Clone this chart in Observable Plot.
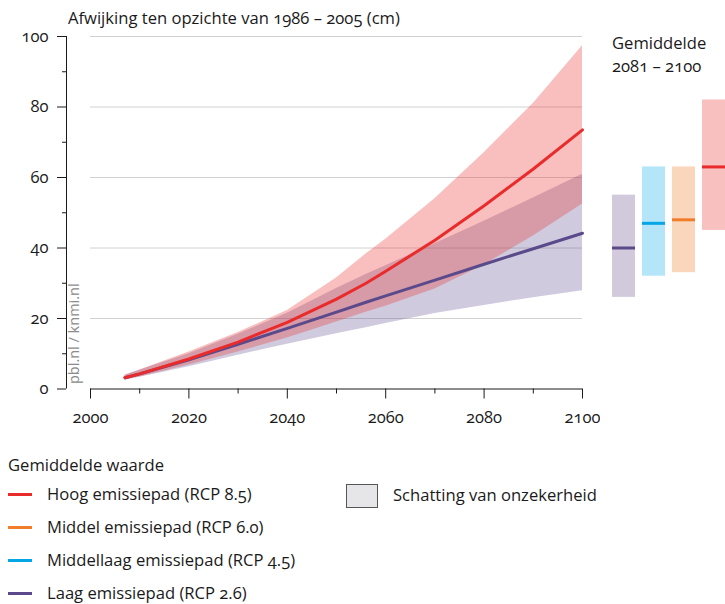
<!DOCTYPE html>
<html><head><meta charset="utf-8">
<script src="https://cdn.jsdelivr.net/npm/d3@7"></script>
<script src="https://cdn.jsdelivr.net/npm/@observablehq/plot@0.6"></script>
<style>
body{margin:0;background:#fff;font-family:"Open Sans",Lato,sans-serif;font-variant-numeric:oldstyle-nums;font-feature-settings:"onum" 1;color:#1a1a1a}
#wrap{position:relative;width:725px;height:604px;overflow:hidden}
svg text{font-variant-numeric:oldstyle-nums !important;font-feature-settings:"onum" 1 !important}
.abs{position:absolute;white-space:nowrap;font-size:16.6px;line-height:20px}
.sw{position:absolute;width:24px;height:3px}
</style></head><body><div id="wrap"></div>
<script>
// ---- data ----
const years   = [2007, 2010, 2020, 2030, 2040, 2050, 2056, 2060, 2070, 2080, 2090, 2100];
const rcp85Mean = [3.2, 4.3, 8.5, 13.3, 18.9, 25.5, 30.0, 33.4, 42.2, 52.0, 62.4, 73.5];
const rcp85Low  = [2.6, 3.4, 6.8, 10.5, 14.5, 19.0, 21.8, 23.5, 28.4, 35.2, 43.4, 52.5];
const rcp85High = [3.9, 5.4, 10.5, 16.0, 22.3, 31.5, 38.3, 42.5, 54.0, 67.0, 81.0, 97.4];
const rcp26Mean = [3.2, 4.3, 8.3, 12.7, 17.2, 21.8, 24.6, 26.4, 30.9, 35.4, 39.8, 44.2];
const rcp26Low  = [2.5, 3.3, 6.3, 9.6, 12.7, 15.7, 17.4, 18.6, 21.4, 23.7, 25.9, 27.9];
const rcp26High = [3.9, 5.3, 10.0, 15.5, 21.5, 28.5, 32.5, 35.0, 41.2, 47.6, 54.2, 60.9];

const scenarios = ["RCP 2.6", "RCP 4.5", "RCP 6.0", "RCP 8.5"];
const avgMean = [40, 47, 48, 63];
const avgLow  = [26, 32, 33, 45];
const avgHigh = [55, 63, 63, 82];

const xMajor = [2000, 2020, 2040, 2060, 2080, 2100];
const xMinor = [2010, 2030, 2050, 2070, 2090];
const yMajor = [0, 20, 40, 60, 80, 100];
const yMinor = [10, 30, 50, 70, 90];

const legendLabels = ["Hoog emissiepad (RCP 8.5)", "Middel emissiepad (RCP 6.0)", "Middellaag emissiepad (RCP 4.5)", "Laag emissiepad (RCP 2.6)"];
const legendKeys = ["RCP 8.5", "RCP 6.0", "RCP 4.5", "RCP 2.6"];

// ---- styles ----
const lineColor = {"RCP 2.6": "#5b4a8b", "RCP 4.5": "#05a6e6", "RCP 6.0": "#f07d2a", "RCP 8.5": "#ea2b2b"};
const boxColor  = {"RCP 2.6": "#d2c9dc", "RCP 4.5": "#b4e5f9", "RCP 6.0": "#fad6bc", "RCP 8.5": "#f9c0c0"};
const font = {fontFamily: "'Open Sans', Lato, sans-serif", fontSize: "16.5px", fontVariantNumeric: "oldstyle-nums", color: "#1a1a1a", background: "transparent"};

const rows = years.map((y, i) => ({year: y, m85: rcp85Mean[i], lo85: rcp85Low[i], hi85: rcp85High[i], m26: rcp26Mean[i], lo26: rcp26Low[i], hi26: rcp26High[i]}));
const avgRows = scenarios.map((s, i) => ({name: s, mean: avgMean[i], lo: avgLow[i], hi: avgHigh[i], fill: boxColor[s], stroke: lineColor[s]}));

const wrap = document.getElementById("wrap");

const main = Plot.plot({
  width: 600, height: 440, marginTop: 36, marginBottom: 51.5, marginLeft: 90, marginRight: 18,
  x: {domain: [2000, 2100], label: null},
  y: {domain: [0, 100], label: null},
  style: font,
  marks: [
    Plot.gridY(yMajor.filter(d => d > 0), {stroke: "#d2d2d2", strokeOpacity: 1}),
    Plot.areaY(rows, {x: "year", y1: "lo26", y2: "hi26", fill: lineColor["RCP 2.6"], fillOpacity: 0.29}),
    Plot.areaY(rows, {x: "year", y1: "lo85", y2: "hi85", fill: lineColor["RCP 8.5"], fillOpacity: 0.3}),
    Plot.lineY(rows, {x: "year", y: "m26", stroke: lineColor["RCP 2.6"], strokeWidth: 3}),
    Plot.lineY(rows, {x: "year", y: "m85", stroke: lineColor["RCP 8.5"], strokeWidth: 3}),
    Plot.ruleY([0], {stroke: "#1a1a1a"}),
    Plot.ruleX([2000], {y1: 0, y2: 100, dx: -24, stroke: "#1a1a1a"}),
    Plot.axisX({ticks: xMajor, tickSize: 10, tickPadding: 12, label: null, tickFormat: d => String(d), stroke: "#1a1a1a", fill: "#1a1a1a"}),
    Plot.axisX({ticks: xMinor, tickSize: 5, label: null, tickFormat: () => "", stroke: "#1a1a1a"}),
    Plot.axisY({ticks: yMajor, tickSize: 9, tickPadding: 9, dx: -24, label: null, tickFormat: d => String(d), stroke: "#1a1a1a", fill: "#1a1a1a"}),
    Plot.axisY({ticks: yMinor, tickSize: 4, dx: -24, label: null, tickFormat: () => "", stroke: "#1a1a1a"}),
    Plot.text(["pbl.nl / knmi.nl"], {frameAnchor: "bottom-left", rotate: -90, textAnchor: "start", dx: -12, dy: -5, fill: "#8c8c8c", fontSize: 14.5})
  ]
});
main.style.position = "absolute"; main.style.left = "0px"; main.style.top = "0px";
wrap.appendChild(main);

const box = Plot.plot({
  width: 135, height: 440, marginTop: 36, marginBottom: 51.5, marginLeft: 22, marginRight: 0,
  x: {domain: scenarios, axis: null, paddingInner: 0.24, paddingOuter: 0},
  y: {domain: [0, 100], axis: null},
  color: {type: "identity"},
  style: font,
  marks: [
    Plot.barY(avgRows, {x: "name", y1: "lo", y2: "hi", fill: "fill"}),
    Plot.tickY(avgRows, {x: "name", y: "mean", stroke: "stroke", strokeWidth: 3})
  ]
});
box.style.position = "absolute"; box.style.left = "590px"; box.style.top = "0px";
wrap.appendChild(box);

function addText(txt, left, top, extra) {
  const d = document.createElement("div");
  d.className = "abs"; d.textContent = txt;
  d.style.left = left + "px"; d.style.top = top + "px";
  if (extra) Object.assign(d.style, extra);
  wrap.appendChild(d);
  return d;
}
addText("Afwijking ten opzichte van 1986 – 2005 (cm)", 68, 8);
addText("Gemiddelde", 612, 32, {lineHeight: "22.5px"});
addText("2081 – 2100", 612, 54.5, {lineHeight: "22.5px"});
addText("Gemiddelde waarde", 8, 455);

legendLabels.forEach((lab, i) => {
  const cy = 494 + i * 33;
  const s = document.createElement("div");
  s.className = "sw"; s.style.left = "8px"; s.style.top = (cy - 1.5) + "px";
  s.style.background = lineColor[legendKeys[i]];
  wrap.appendChild(s);
  addText(lab, 47, cy - 10);
});
const ub = document.createElement("div");
Object.assign(ub.style, {position: "absolute", left: "346px", top: "484px", width: "30px", height: "22px", background: "#e6e6e9", border: "1px solid #555"});
wrap.appendChild(ub);
addText("Schatting van onzekerheid", 393, 485);
</script>
</body></html>
